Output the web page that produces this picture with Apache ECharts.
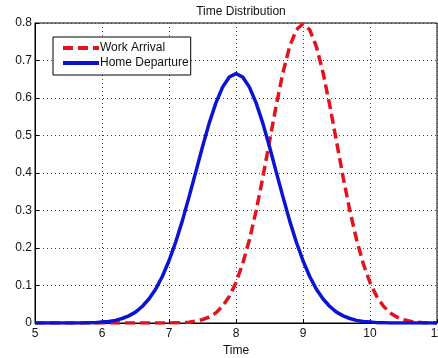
<!DOCTYPE html>
<html>
<head>
<meta charset="utf-8">
<script src="https://cdn.jsdelivr.net/npm/echarts@6/dist/echarts.min.js"></script>
<style>
  html, body { margin: 0; padding: 0; background: #fff; }
  #chart { width: 438px; height: 358px; }
</style>
</head>
<body>
<div id="chart"></div>
<script>
const timeValues = [
  5.0, 5.1, 5.2, 5.3, 5.4, 5.5, 5.6, 5.7, 5.8, 5.9,
  6.0, 6.1, 6.2, 6.3, 6.4, 6.5, 6.6, 6.7, 6.8, 6.9,
  7.0, 7.1, 7.2, 7.3, 7.4, 7.5, 7.6, 7.7, 7.8, 7.9,
  8.0, 8.1, 8.2, 8.3, 8.4, 8.5, 8.6, 8.7, 8.8, 8.9,
  9.0, 9.1, 9.2, 9.3, 9.4, 9.5, 9.6, 9.7, 9.8, 9.9,
  10.0, 10.1, 10.2, 10.3, 10.4, 10.5, 10.6, 10.7, 10.8, 10.9,
  11.0,
];

// Work Arrival (red dashed)
const workArrival = [
  0, 0, 0, 0, 0, 0, 0, 0, 0, 0,
  0, 0, 0, 0, 0, 0, 0, 0, 0, 0,
  0, 0.001, 0.001, 0.002, 0.005, 0.009, 0.016, 0.027, 0.045, 0.071,
  0.108, 0.158, 0.222, 0.299, 0.388, 0.484, 0.580, 0.667, 0.737, 0.782,
  0.798, 0.782, 0.737, 0.667, 0.580, 0.484, 0.388, 0.299, 0.222, 0.158,
  0.108, 0.071, 0.045, 0.027, 0.016, 0.009, 0.005, 0.002, 0.001, 0.001,
  0,
];

// Home Departure (blue solid)
const homeDeparture = [
  0, 0, 0, 0, 0, 0, 0, 0, 0.001, 0.001,
  0.003, 0.004, 0.007, 0.012, 0.019, 0.029, 0.044, 0.064, 0.090, 0.124,
  0.166, 0.216, 0.273, 0.337, 0.403, 0.470, 0.533, 0.587, 0.629, 0.656,
  0.665, 0.656, 0.629, 0.587, 0.533, 0.470, 0.403, 0.337, 0.273, 0.216,
  0.166, 0.124, 0.090, 0.064, 0.044, 0.029, 0.019, 0.012, 0.007, 0.004,
  0.003, 0.001, 0.001, 0, 0, 0, 0, 0, 0, 0,
  0,
];

const RED = "#e3121c";
const BLUE = "#0a14d2";
const FONT = "Liberation Sans, Arial, sans-serif";

const chart = echarts.init(document.getElementById("chart"), null, { renderer: "canvas" });

const pairs = (ys) => timeValues.map((x, i) => [x, ys[i]]);

chart.setOption({
  animation: false,
  backgroundColor: "#fff",
  title: {
    text: "Time Distribution",
    left: 236, top: 1,
    textAlign: "center",
    textStyle: { fontFamily: FONT, fontSize: 12, fontWeight: "normal", color: "#111" },
  },
  legend: {
    orient: "vertical",
    left: 53, top: 37,
    data: ["Work Arrival", "Home Departure"],
    backgroundColor: "#fff",
    borderColor: "#000",
    borderWidth: 1,
    borderRadius: 0,
    padding: [5, 2, 6, 8],
    itemGap: 3,
    itemWidth: 36, itemHeight: 12,
    itemStyle: { opacity: 0 },
    lineStyle: { width: 4 },
    textStyle: { fontFamily: FONT, fontSize: 12, color: "#111", padding: [0, 0, 0, -4] },
  },
  grid: {
    left: 35, right: 1, top: 23, bottom: 35,
    outerBoundsMode: "none",
    show: true, borderColor: "#000", borderWidth: 1, backgroundColor: "#fff",
  },
  xAxis: {
    type: "value", min: 5, max: 11, interval: 1,
    name: "Time", nameLocation: "middle", nameGap: 21,
    nameTextStyle: { fontFamily: FONT, fontSize: 12, color: "#111" },
    axisLine: { lineStyle: { color: "#000" } },
    axisTick: { inside: true, length: 4, lineStyle: { color: "#000" } },
    axisLabel: { fontFamily: FONT, fontSize: 12, color: "#111", margin: 5 },
    splitLine: { show: true, lineStyle: { color: "#444", type: [1, 3], width: 1 } },
  },
  yAxis: {
    type: "value", min: 0, max: 0.8, interval: 0.1,
    axisLine: { show: true, lineStyle: { color: "#000" } },
    axisTick: { show: true, inside: true, length: 4, lineStyle: { color: "#000" } },
    axisLabel: { fontFamily: FONT, fontSize: 12, color: "#111", margin: 3 },
    splitLine: { show: true, lineStyle: { color: "#444", type: [1, 3], width: 1 } },
  },
  series: [
    {
      name: "Work Arrival",
      type: "line",
      data: pairs(workArrival),
      symbol: "none",
      itemStyle: { color: RED },
      lineStyle: { color: RED, width: 3.5, type: [10, 5] },
    },
    {
      name: "Home Departure",
      type: "line",
      data: pairs(homeDeparture),
      symbol: "none",
      itemStyle: { color: BLUE },
      lineStyle: { color: BLUE, width: 3.5 },
    },
  ],
});
</script>
</body>
</html>
